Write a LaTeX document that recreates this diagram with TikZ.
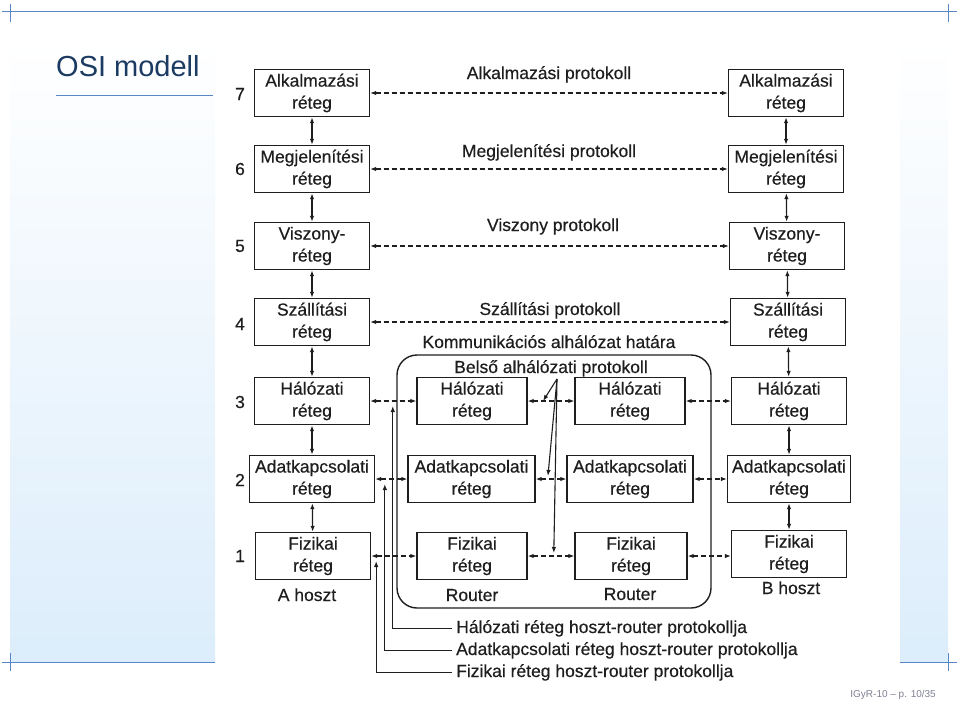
\documentclass[tikz,border=0pt]{standalone}
\usepackage{fontspec}
\setmainfont{Liberation Sans}
\newfontfamily\scanfont[FakeBold=0.45]{Liberation Sans}
\usetikzlibrary{arrows.meta,calc}
\definecolor{framec}{HTML}{5A86C5}
\definecolor{titlec}{HTML}{1B3B62}
\definecolor{panelc}{HTML}{DCEDFB}
\definecolor{inkc}{HTML}{1E1E1E}
\definecolor{footc}{HTML}{7F8092}
\begin{document}
\begin{tikzpicture}[x=1pt,y=-1pt,
  txt/.style={font=\scanfont\fontsize{17.5}{22}\selectfont,text=inkc,inner sep=0pt},
  box/.style={txt,draw=inkc,line width=1.4pt,minimum width=115pt,minimum height=47pt,align=center},
  widebox/.style={box,minimum width=125pt},
  rbox/.style={box,minimum width=110pt},
  rwidebox/.style={box,minimum width=127pt},
  num/.style={txt},
  tipA/.tip={Latex[length=6pt,width=4.5pt]},
  peer/.style={draw=inkc,line width=1.1pt,dash pattern=on 5pt off 3pt,tipA-tipA},
  stack/.style={draw=inkc,line width=1.2pt,tipA-tipA},
  pointer/.style={draw=inkc,line width=1.1pt,-tipA},
  frameline/.style={draw=framec,line width=1pt}
]
\useasboundingbox (0,0) rectangle (960,701);
% slide background panels
\shade[top color=white,bottom color=panelc] (10,40) rectangle (215,662);
\shade[top color=white,bottom color=panelc] (900,40) rectangle (948,662);
% frame lines
\draw[frameline] (2,12) -- (957,12);
\draw[frameline] (10,4) -- (10,22);
\draw[frameline] (948,4) -- (948,22);
\draw[frameline] (2,662) -- (215,662);
\draw[frameline] (900,662) -- (957,662);
\draw[frameline] (10,653) -- (10,671);
\draw[frameline] (948,653) -- (948,671);
% title
\node[anchor=base west,inner sep=0pt,text=titlec,font=\fontsize{29}{34}\selectfont] (title) at (56,77) {OSI modell};
\draw[frameline] (56,95) -- (213,95);
% footer
\node[anchor=base east,inner sep=0pt,text=footc,font=\fontsize{10}{12}\selectfont] (foot) at (936,697) {IGyR-10 -- p. 10/35};

% subnet boundary
\node[draw=inkc,line width=1.4pt,rounded corners=20pt,minimum width=314pt,minimum height=253pt,inner sep=0pt] (subnet) at (554,481.5) {};

% left host
\node[box] (L7) at (312,93) {Alkalmazási\\réteg};
\node[box] (L6) at (312,169) {Megjelenítési\\réteg};
\node[box] (L5) at (312,246) {Viszony-\\réteg};
\node[box] (L4) at (312,322) {Szállítási\\réteg};
\node[box] (L3) at (312,401) {Hálózati\\réteg};
\node[widebox] (L2) at (312,479) {Adatkapcsolati\\réteg};
\node[box] (L1) at (313,556) {Fizikai\\réteg};
% right host
\node[box] (R7) at (786,93) {Alkalmazási\\réteg};
\node[box] (R6) at (786,169) {Megjelenítési\\réteg};
\node[box] (R5) at (787,246) {Viszony-\\réteg};
\node[box] (R4) at (788,322) {Szállítási\\réteg};
\node[box] (R3) at (789,401) {Hálózati\\réteg};
\node[widebox,minimum width=123pt] (R2) at (789,479) {Adatkapcsolati\\réteg};
\node[box] (R1) at (789,554) {Fizikai\\réteg};
% routers
\node[rbox] (A3) at (472,401) {Hálózati\\réteg};
\node[rwidebox] (A2) at (471.5,479) {Adatkapcsolati\\réteg};
\node[rbox] (A1) at (472,556) {Fizikai\\réteg};
\node[rbox] (B3) at (630,401) {Hálózati\\réteg};
\node[rwidebox,minimum width=126pt] (B2) at (630,479) {Adatkapcsolati\\réteg};
\node[rbox,minimum width=112pt] (B1) at (631,556) {Fizikai\\réteg};

% layer numbers
\node[num] (n7) at (240,94) {7};
\node[num] (n6) at (240,169) {6};
\node[num] (n5) at (240,246) {5};
\node[num] (n4) at (240,324) {4};
\node[num] (n3) at (240,402) {3};
\node[num] (n2) at (240,480) {2};
\node[num] (n1) at (240,556) {1};

% protocol labels
\node[txt,anchor=base] (p7) at (549,79) {Alkalmazási protokoll};
\node[txt,anchor=base] (p6) at (549,157) {Megjelenítési protokoll};
\node[txt,anchor=base] (p5) at (553,231) {Viszony protokoll};
\node[txt,anchor=base] (p4) at (550,315) {Szállítási protokoll};
\node[txt,anchor=base] (kh) at (549,348) {Kommunikációs alhálózat határa};
\node[txt,anchor=base] (bp) at (551,373) {Belső alhálózati protokoll};
\node[txt,anchor=base] (ah) at (307,601) {A hoszt};
\node[txt,anchor=base] (ra) at (472,601) {Router};
\node[txt,anchor=base] (rb) at (630,600) {Router};
\node[txt,anchor=base] (bh) at (791,594) {B hoszt};
\node[txt,anchor=base west,inner sep=4pt] (hl3) at (452,633) {Hálózati réteg hoszt-router protokollja};
\node[txt,anchor=base west,inner sep=4pt] (hl2) at (452,655) {Adatkapcsolati réteg hoszt-router protokollja};
\node[txt,anchor=base west,inner sep=4pt] (hl1) at (452,677) {Fizikai réteg hoszt-router protokollja};

% peer protocols
\draw[peer] (L7) -- (R7);
\draw[peer] (L6) -- (R6);
\draw[peer] (L5) -- (R5);
\draw[peer] (L4) -- (R4);
\draw[peer] (L3) -- (A3);
\draw[peer] (A3) -- (B3);
\draw[peer] (B3) -- (R3);
\draw[peer] (L2) -- (A2);
\draw[peer] (A2) -- (B2);
\draw[peer] (B2) -- (R2);
\draw[peer] (L1) -- (A1);
\draw[peer] (A1) -- (B1);
\draw[peer] (B1.east) -- (B1.east -| R1.west);

% vertical stacks
\foreach \s in {L,R}{
  \draw[stack] (\s7) -- (\s6);
  \draw[stack] (\s6) -- (\s5);
  \draw[stack] (\s5) -- (\s4);
  \draw[stack] (\s4) -- (\s3);
  \draw[stack] (\s3) -- (\s2);
  \draw[stack] (\s2) -- (\s1);
}

% inner subnet protocol pointers
\coordinate (bpt) at (557,379);
\coordinate (bp3) at ($(A3.east)!0.33!(B3.west)$);
\coordinate (bp2) at ($(A2.east)!0.4!(B2.west)+(0,-3)$);
\coordinate (bp1) at ($(A1.east)!0.56!(B1.west)+(0,-3)$);
\draw[pointer] (bpt) -- (bp3);
\draw[pointer] (bpt) -- (bp2);
\draw[pointer] (bpt) -- (bp1);

% host-router protocol pointers
\coordinate (hr3) at ($(L3.east)!0.49!(A3.west)+(0,5)$);
\coordinate (hr2) at ($(L2.east)!0.30!(A2.west)+(0,5)$);
\coordinate (hr1) at ($(L1.east)!0.11!(A1.west)+(0,5)$);
\draw[pointer] (hl3.west) -| (hr3);
\draw[pointer] (hl2.west) -| (hr2);
\draw[pointer] (hl1.west) -| (hr1);
\end{tikzpicture}
\end{document}
